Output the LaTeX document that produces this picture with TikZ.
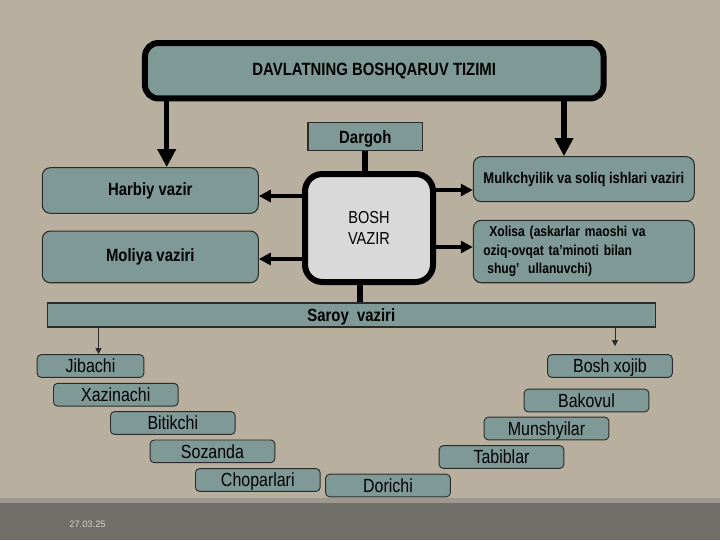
\documentclass[tikz,border=0pt]{standalone}
\usepackage{fontspec}
\setmainfont[FakeStretch=0.84]{Liberation Sans}
\newfontfamily\datefont{Liberation Sans}
\usetikzlibrary{positioning, arrows.meta}
\definecolor{linen}{HTML}{B9AF9F}
\definecolor{slate}{HTML}{7E9996}
\definecolor{pale}{HTML}{D9D9D9}
\definecolor{edge}{HTML}{2B2B2B}
\definecolor{footer}{HTML}{6F6E69}
\definecolor{footline}{HTML}{9D988F}
\definecolor{datecol}{HTML}{D4D2CA}

\begin{document}
\begin{tikzpicture}[x=0.75pt, y=-0.75pt,
  every node/.style={align=center, text=black},
  head/.style={rectangle, rounded corners=10pt, draw=black, line width=4.5pt,
               fill=slate, minimum width=343.9pt, minimum height=41.6pt,
               font=\bfseries\fontsize{13.3}{16}\selectfont},
  chief/.style={rectangle, rounded corners=13pt, draw=black, line width=4.5pt,
                fill=pale, minimum width=96pt, minimum height=81pt,
                font=\fontsize{13}{15.75}\selectfont},
  box/.style={rectangle, rounded corners=6pt, draw=edge, line width=0.8pt,
              fill=slate, minimum width=162pt,
              font=\bfseries\fontsize{13.3}{16}\selectfont},
  wide/.style={box, minimum width=165.75pt,
               font=\bfseries\fontsize{11.6}{13.9}\selectfont},
  bar/.style={rectangle, draw=edge, line width=0.8pt, fill=slate, inner sep=0pt,
              text depth=0pt, font=\bfseries\fontsize{13.3}{16}\selectfont},
  item/.style={rectangle, rounded corners=3pt, draw=edge, line width=0.7pt,
               fill=slate, minimum width=93.5pt, minimum height=17pt,
               inner sep=0pt, text depth=0pt, font=\fontsize{14.25}{16}\selectfont},
  bigarr/.style={-{Triangle[length=13.5pt, width=13.3pt]}, line width=4.1pt},
  arr/.style={-{Triangle[length=9pt, width=9pt]}, line width=2.6pt},
  subarr/.style={-{Triangle[length=4.5pt, width=4.5pt]}, line width=0.7pt, edge},
  link/.style={line width=4.3pt}
]
% slide background
\useasboundingbox (0,0) rectangle (720,540);
\fill[linen] (0,0) rectangle (720,540);
\fill[footline] (0,498) rectangle (720,503);
\fill[footer] (0,503) rectangle (720,540);
\node[font=\datefont\fontsize{7}{8}\selectfont, text=datecol] (date) at (87.5,524) {27.03.25};

% top level
\node[head] (title) at (374.25,70.75) {DAVLATNING BOSHQARUV TIZIMI};
\node[box, rounded corners=0pt, minimum width=86pt, minimum height=21pt,
      inner sep=0pt, text depth=0pt] (dargoh) at (365.3,136.7) {Dargoh};
\node[chief] (bosh) at (369,228) {BOSH\\VAZIR};

\node[box, minimum height=34.2pt] (harbiy) at (150.3,190.5) {Harbiy vazir};
\node[box, minimum height=38.8pt, below=12.5pt of harbiy] (moliya) {Moliya vaziri};
\node[wide, minimum height=33.75pt] (mulk) at (583.8,179.2)
     {Mulkchyilik va soliq ishlari vaziri};
\node[wide, minimum height=46.8pt, text width=150.75pt, inner xsep=7.5pt,
      align=left, font=\bfseries\fontsize{10.8}{13.9}\selectfont,
      below=13.2pt of mulk] (xolisa)
     {\hspace{4.5pt}Xolisa (askarlar maoshi va\\oziq-ovqat ta’minoti bilan\\\hspace{3pt}shug’\hspace{0.6em}ullanuvchi)};

\node[bar, minimum width=456pt, minimum height=18pt] (saroy) at (351.3,315) {Saroy\ \ vaziri};

% saroy staff
\node[item, minimum width=80pt] (jibachi) at (90.5,366) {Jibachi};
\node[item] (xazinachi)  at (115.8,394.7) {Xazinachi};
\node[item] (bitikchi)   at (172.8,423)   {Bitikchi};
\node[item] (sozanda)    at (212.5,451.3) {Sozanda};
\node[item] (choparlari) at (257.8,480)   {Choparlari};
\node[item] (dorichi)    at (388,485.5)   {Dorichi};
\node[item] (tabiblar)   at (501.5,457)   {Tabiblar};
\node[item] (munshyilar) at (546.5,428.5) {Munshyilar};
\node[item] (bakovul)    at (586.5,400.5) {Bakovul};
\node[item] (xojib)      at (610,366)     {Bosh xojib};

% connector positions
\coordinate (lx) at (166.7,0);
\coordinate (rx) at (564,0);
\coordinate (mx) at (360,0);
\coordinate (sl) at (98.5,0);
\coordinate (sr) at (615,0);
\coordinate (hy) at (0,196);
\coordinate (my) at (0,259);
\coordinate (ky) at (0,190);
\coordinate (xy) at (0,247);

\draw[bigarr] (title.south -| lx) -- (harbiy.north -| lx);
\draw[bigarr] (title.south -| rx) -- (mulk.north -| rx);
\draw[link] (dargoh.south) -- (bosh.north -| dargoh.south);
\draw[link] (bosh.south -| mx) -- (saroy.north -| mx);
\draw[arr] (bosh.west |- hy) -- (harbiy.east |- hy);
\draw[arr] (bosh.west |- my) -- (moliya.east |- my);
\draw[arr] (bosh.east |- ky) -- (mulk.west |- ky);
\draw[arr] (bosh.east |- xy) -- (xolisa.west |- xy);
\draw[subarr] (saroy.south -| sl) -- (jibachi.north -| sl);
\draw[subarr, shorten >=6pt] (saroy.south -| sr) -- (xojib.north -| sr);
\end{tikzpicture}
\end{document}
